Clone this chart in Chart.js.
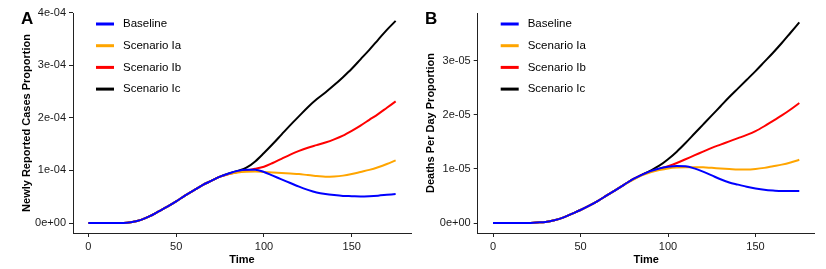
<!DOCTYPE html>
<html>
<head>
<meta charset="utf-8">
<script src="https://cdn.jsdelivr.net/npm/chart.js@4"></script>
<style>
  body { margin: 0; background: #fff; }
  #wrap { position: relative; width: 826px; height: 269px; }
  .panel { position: absolute; top: 0; width: 413px; height: 269px; }
  .tag { position: absolute; top: 10px; font: bold 17px/17px "Liberation Sans", Arial, sans-serif; color: #000; }
</style>
</head>
<body>
<div id="wrap">
  <div class="panel" style="left:0"><canvas id="chartA"></canvas></div>
  <div class="panel" style="left:413px"><canvas id="chartB"></canvas></div>
  <div class="tag" style="left:21px">A</div>
  <div class="tag" style="left:425px">B</div>
</div>
<script>
var time = [0,5,10,15,20,25,30,35,40,45,50,55,60,65,70,75,80,85,90,95,100,105,110,115,120,125,130,135,140,145,150,155,160,165,170,175];
var seriesNames = ['Baseline', 'Scenario Ia', 'Scenario Ib', 'Scenario Ic'];
var seriesColors = ['#0000FF', '#FFA500', '#FF0000', '#000000'];

// panel A, newly reported cases, in units of 1e-4
var casesUnit = 1e-4;
var casesBaseline = [0,0,0,0,0,0.02,0.06,0.13,0.22,0.31,0.41,0.52,0.62,0.72,0.80,0.88,0.94,
  0.99,1.01,1.01,0.97,0.90,0.83,0.76,0.69,0.63,0.58,0.55,0.53,0.515,0.51,0.505,0.51,0.52,0.535,0.55];
var casesIa = [0,0,0,0,0,0.02,0.06,0.13,0.22,0.31,0.41,0.52,0.62,0.72,0.80,0.88,0.93,
  0.96,0.975,0.98,0.97,0.96,0.95,0.94,0.93,0.91,0.895,0.88,0.885,0.90,0.93,0.97,1.01,1.06,1.12,1.19];
var casesIb = [0,0,0,0,0,0.02,0.06,0.13,0.22,0.31,0.41,0.52,0.62,0.72,0.80,0.88,0.93,
  0.97,1.0,1.03,1.07,1.14,1.22,1.30,1.37,1.43,1.48,1.53,1.59,1.66,1.75,1.85,1.96,2.07,2.19,2.31];
var casesIc = [0,0,0,0,0,0.02,0.06,0.13,0.22,0.31,0.41,0.52,0.62,0.72,0.80,0.88,0.94,
  0.99,1.05,1.17,1.33,1.50,1.68,1.86,2.03,2.20,2.35,2.48,2.62,2.77,2.93,3.11,3.29,3.48,3.67,3.84];

// panel B, deaths per day, in units of 1e-5
var deathsUnit = 1e-5;
var deathsBaseline = [0,0,0,0,0,0.01,0.02,0.05,0.10,0.17,0.24,0.32,0.41,0.51,0.61,0.71,0.81,
  0.89,0.96,1.01,1.04,1.055,1.05,1.01,0.95,0.88,0.81,0.75,0.71,0.67,0.64,0.615,0.60,0.59,0.59,0.59];
var deathsIa = [0,0,0,0,0,0.01,0.02,0.05,0.10,0.17,0.24,0.32,0.41,0.51,0.61,0.71,0.80,
  0.88,0.94,0.98,1.01,1.025,1.03,1.03,1.03,1.02,1.01,1.0,0.99,0.99,1.0,1.02,1.05,1.08,1.12,1.17];
var deathsIb = [0,0,0,0,0,0.01,0.02,0.05,0.10,0.17,0.24,0.32,0.41,0.51,0.61,0.71,0.81,
  0.89,0.95,1.0,1.05,1.11,1.18,1.25,1.32,1.39,1.45,1.51,1.57,1.63,1.70,1.79,1.89,1.99,2.10,2.22];
var deathsIc = [0,0,0,0,0,0.01,0.02,0.05,0.10,0.17,0.24,0.32,0.41,0.51,0.61,0.71,0.81,
  0.89,0.97,1.06,1.18,1.32,1.48,1.65,1.82,1.99,2.16,2.33,2.49,2.65,2.81,2.98,3.15,3.33,3.52,3.71];

var xTickVals = [0, 50, 100, 150];
var xTickLabels = ['0', '50', '100', '150'];
var casesTickVals = [0, 1e-4, 2e-4, 3e-4, 4e-4];
var casesTickLabels = ['0e+00', '1e-04', '2e-04', '3e-04', '4e-04'];
var deathsTickVals = [0, 1e-5, 2e-5, 3e-5];
var deathsTickLabels = ['0e+00', '1e-05', '2e-05', '3e-05'];

var fontFamily = '"Liberation Sans", Arial, Helvetica, sans-serif';
Chart.defaults.font.family = fontFamily;

// legend drawn inside the plot, top left
var insetLegend = {
  id: 'insetLegend',
  afterDraw: function(chart) {
    var ctx = chart.ctx;
    var area = chart.chartArea;
    ctx.save();
    ctx.font = '11.5px ' + fontFamily;
    ctx.textBaseline = 'middle';
    ctx.textAlign = 'left';
    chart.data.datasets.forEach(function(ds, i) {
      var y = area.top + 11 + i * 21.7;
      ctx.strokeStyle = ds.borderColor;
      ctx.lineWidth = 3;
      ctx.beginPath();
      ctx.moveTo(area.left + 23, y);
      ctx.lineTo(area.left + 41, y);
      ctx.stroke();
      ctx.fillStyle = '#000';
      ctx.fillText(ds.label, area.left + 50, y);
    });
    ctx.restore();
  }
};

function makeDatasets(list, unit) {
  return list.map(function(values, i) {
    return {
      label: seriesNames[i],
      data: time.map(function(t, j) { return {x: t, y: values[j] * unit}; }),
      borderColor: seriesColors[i],
      backgroundColor: seriesColors[i],
      borderWidth: 2,
      pointRadius: 0,
      fill: false,
      cubicInterpolationMode: 'monotone'
    };
  });
}

function makeChart(id, datasets, cfg) {
  var ctx = document.getElementById(id).getContext('2d');
  return new Chart(ctx, {
    type: 'line',
    data: { datasets: datasets },
    options: {
      responsive: true,
      maintainAspectRatio: false,
      animation: false,
      layout: { padding: { left: cfg.padLeft, top: 13, right: cfg.padRight, bottom: 0 } },
      plugins: { legend: { display: false }, tooltip: { enabled: false } },
      scales: {
        x: {
          type: 'linear',
          min: -8.75,
          max: 183.75,
          border: { display: true, color: '#222', width: 1 },
          grid: { drawOnChartArea: false, drawTicks: true, tickLength: 4, color: '#222' },
          afterBuildTicks: function(scale) {
            scale.ticks = xTickVals.map(function(v) { return {value: v}; });
          },
          ticks: {
            padding: 3,
            color: '#1a1a1a',
            font: { size: 11 },
            maxRotation: 0,
            callback: function(v, i) { return xTickLabels[i]; }
          },
          title: { display: true, text: 'Time', color: '#000', font: { size: 11, weight: 'bold' }, padding: { top: 0, bottom: 2 } },
          afterFit: function(scale) { scale.height = 36; }
        },
        y: {
          type: 'linear',
          min: cfg.yMin,
          max: cfg.yMax,
          border: { display: true, color: '#222', width: 1 },
          grid: { drawOnChartArea: false, drawTicks: true, tickLength: 4, color: '#222' },
          afterBuildTicks: function(scale) {
            scale.ticks = cfg.tickVals.map(function(v) { return {value: v}; });
          },
          ticks: {
            padding: 3,
            color: '#1a1a1a',
            font: { size: 11 },
            callback: function(v, i) { return cfg.tickLabels[i]; }
          },
          title: { display: true, text: cfg.yTitle, color: '#000', font: { size: 11, weight: 'bold' }, padding: 0 },
          afterFit: function(scale) { scale.width = cfg.yWidth; }
        }
      }
    },
    plugins: [insetLegend]
  });
}

makeChart('chartA', makeDatasets([casesBaseline, casesIa, casesIb, casesIc], casesUnit), {
  padLeft: 20.4, padRight: 2, yWidth: 52.6,
  yMin: -0.19e-4, yMax: 3.99e-4,
  tickVals: casesTickVals, tickLabels: casesTickLabels,
  yTitle: 'Newly Reported Cases Proportion'
});

makeChart('chartB', makeDatasets([deathsBaseline, deathsIa, deathsIb, deathsIc], deathsUnit), {
  padLeft: 11.4, padRight: 11.4, yWidth: 53.3,
  yMin: -0.185e-5, yMax: 3.885e-5,
  tickVals: deathsTickVals, tickLabels: deathsTickLabels,
  yTitle: 'Deaths Per Day Proportion'
});
</script>
</body>
</html>
